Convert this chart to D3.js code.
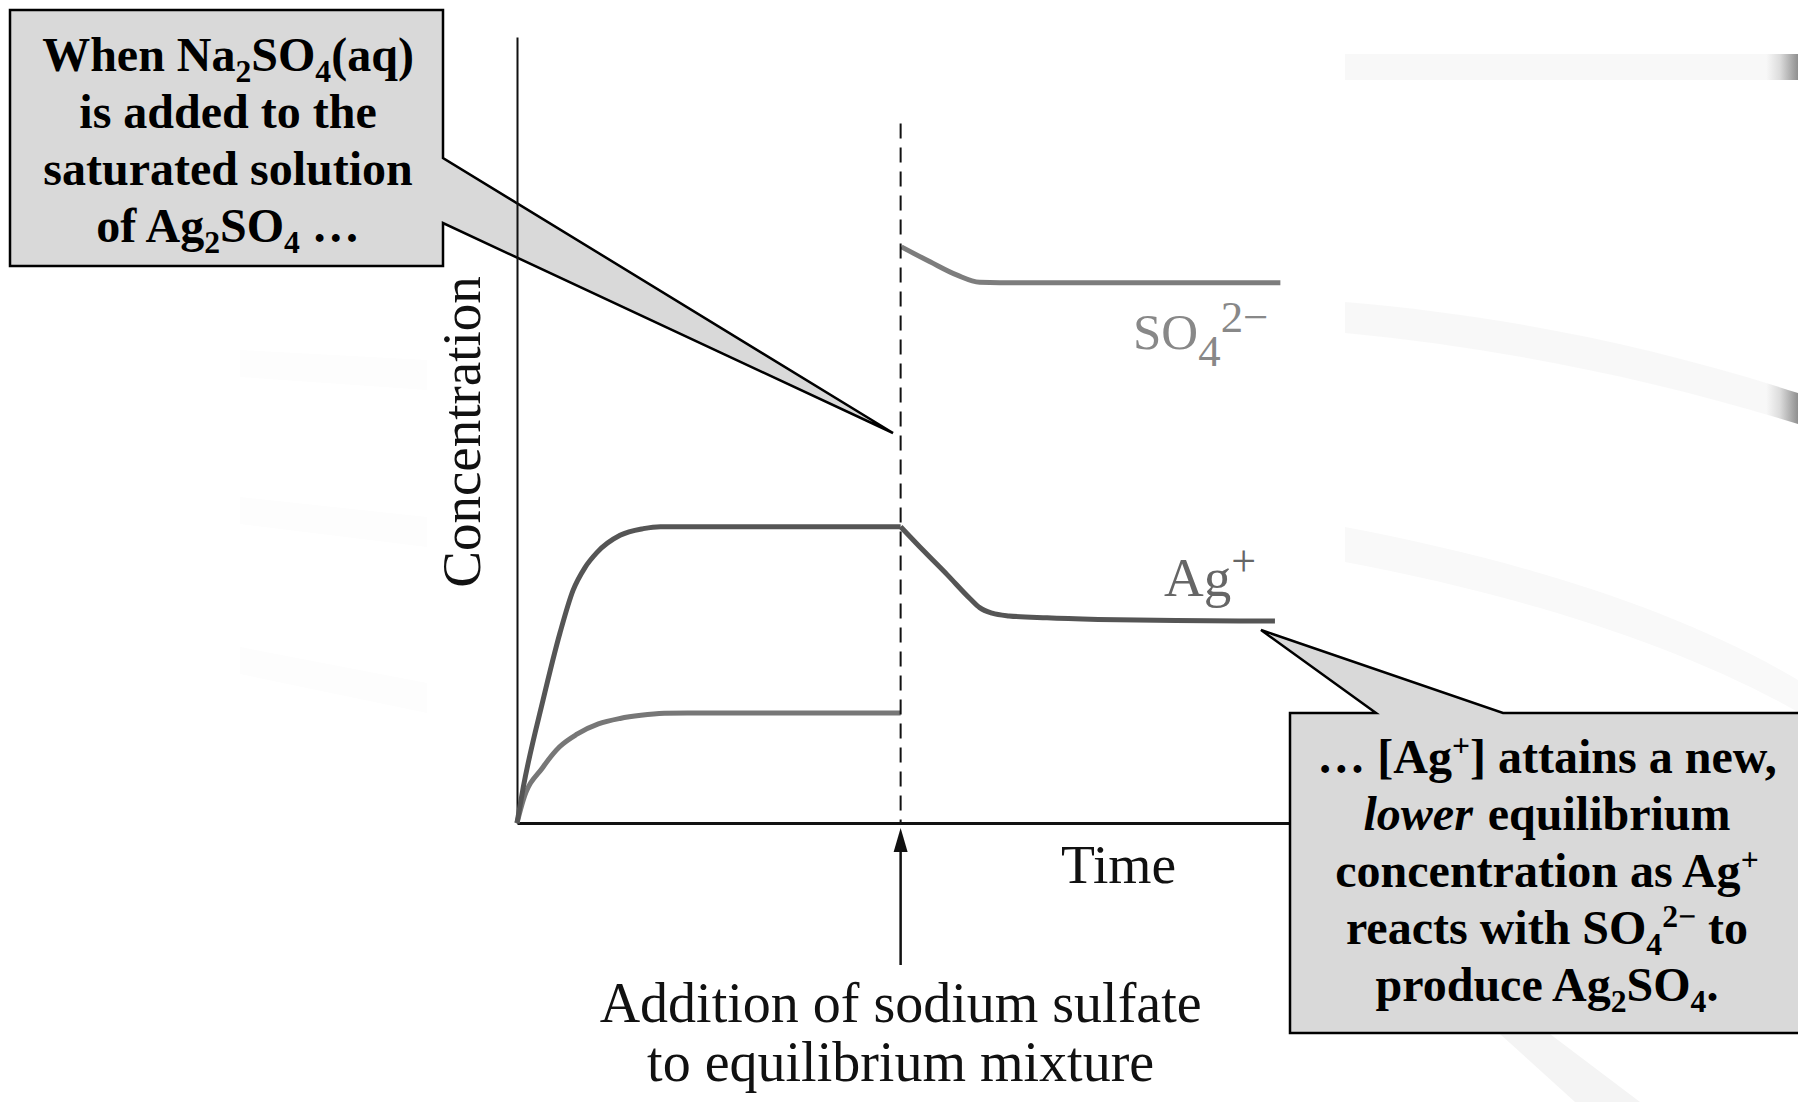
<!DOCTYPE html>
<html>
<head>
<meta charset="utf-8">
<script src="https://cdn.jsdelivr.net/npm/d3@7"></script>
<style>
  body { margin: 0; background: #fff; }
  svg { display: block; font-family: "Liberation Serif", "Times New Roman", serif; }
</style>
</head>
<body>
<script>
// time when sodium sulfate is added (x units) and top of the dashed marker
const additionTime = 49.5;
const markerTop = 89;

// Ag+ before and after the addition
const agTimeBefore = [0, 0.8, 3.35, 5.55, 7.23, 8.77, 10.3, 13.3, 16.3, 18.5, 49.5];
const agConcBefore = [0, 4.5, 15.6, 24.2, 29.6, 32.5, 34.4, 36.6, 37.45, 37.7, 37.7];
const agTimeAfter = [49.5, 52.5, 55.5, 58.5, 59.7, 61.3, 63.5, 68.4, 75, 85, 97.8];
const agConcAfter = [37.7, 34.6, 31.6, 28.5, 27.4, 26.7, 26.35, 26.1, 25.9, 25.75, 25.7];

// sulfate before the addition (lower curve)
const so4TimeBefore = [0, 0.8, 3.35, 5.5, 7.74, 10.5, 13.3, 16, 19, 22, 49.5];
const so4ConcBefore = [0, 2.9, 7.1, 9.7, 11.3, 12.6, 13.3, 13.7, 13.95, 14.0, 14.0];

// sulfate after the addition
const so4TimeAfter = [49.6, 53.3, 56.8, 59.7, 62.3, 98.5];
const so4ConcAfter = [73.3, 71.4, 69.7, 68.8, 68.75, 68.75];

const w = 1798;
const h = 1102;

const x = d3.scaleLinear().domain([0, 100]).range([517, 1292]);
const y = d3.scaleLinear().domain([0, 100]).range([823, 37]);

const svg = d3.select("body").append("svg").attr("width", w).attr("height", h);

// faint background swooshes from the slide template
const bg = svg.append("g");
const grad = svg.append("defs").append("linearGradient").attr("id", "edge");
grad.append("stop").attr("offset", "0").attr("stop-color", "#f8f8f8");
grad.append("stop").attr("offset", "0.93").attr("stop-color", "#f8f8f8");
grad.append("stop").attr("offset", "0.96").attr("stop-color", "#dcdcdc");
grad.append("stop").attr("offset", "1").attr("stop-color", "#8f8f8f");
bg.append("path").attr("d", "M1345,54H1798V80H1345Z").attr("fill", "url(#edge)");
bg.append("path").attr("d", "M1345,302C1500,315 1650,345 1798,393V424C1650,378 1500,348 1345,333Z").attr("fill", "url(#edge)");
bg.append("path").attr("d", "M1345,527C1520,560 1680,610 1798,680V712C1680,645 1520,595 1345,562Z").attr("fill", "#f9f9f9");
bg.append("path").attr("d", "M1500,1034H1550L1640,1102H1575Z").attr("fill", "#f4f4f4");
[[350, 360], [497, 517], [647, 683]].forEach(([a, b]) => {
  bg.append("path")
    .attr("d", `M240,${a}L427,${b}V${b + 30}L240,${a + 27}Z`)
    .attr("fill", "#fdfdfd");
});

// callout 1 (drawn under the axis)
svg.append("path")
  .attr("d", "M10,10H443V158L893,433L443,223V266H10Z")
  .attr("fill", "#d9d9d9").attr("stroke", "#000").attr("stroke-width", 2.5)
  .attr("stroke-linejoin", "miter");

// axes without ticks
const xAxis = d3.axisBottom(x).tickValues([]).tickSizeOuter(0);
const yAxis = d3.axisLeft(y).tickValues([]).tickSizeOuter(0);
svg.append("g").attr("transform", "translate(0," + y(0) + ")").call(xAxis)
  .select(".domain").attr("stroke", "#111").attr("stroke-width", 3);
svg.append("g").attr("transform", "translate(" + x(0) + ",0)").call(yAxis)
  .select(".domain").attr("stroke", "#111").attr("stroke-width", 2);

const line = d3.line()
  .x((d) => x(d[0]))
  .y((d) => y(d[1]))
  .curve(d3.curveMonotoneX);

const zip = (a, b) => a.map((v, i) => [v, b[i]]);

const curves = [
  [zip(so4TimeBefore, so4ConcBefore), "#777"],
  [zip(so4TimeAfter, so4ConcAfter), "#7d7d7d"],
  [zip(agTimeBefore, agConcBefore), "#555"],
  [zip(agTimeAfter, agConcAfter), "#555"],
];
svg.selectAll("path.curve")
  .data(curves)
  .enter()
  .append("path")
  .attr("class", "curve")
  .attr("d", (d) => line(d[0]))
  .attr("fill", "none")
  .attr("stroke", (d) => d[1])
  .attr("stroke-width", 5)
  .attr("stroke-linecap", "butt");

// dashed marker at the addition time
svg.append("line")
  .attr("x1", x(additionTime)).attr("x2", x(additionTime))
  .attr("y1", y(markerTop)).attr("y2", y(0))
  .attr("stroke", "#111").attr("stroke-width", 2)
  .attr("stroke-dasharray", "15,9");

// axis titles
svg.append("text")
  .attr("transform", "translate(480,432) rotate(-90)")
  .attr("text-anchor", "middle")
  .attr("font-size", 55)
  .attr("fill", "#111")
  .text("Concentration");

svg.append("text")
  .attr("x", 1061).attr("y", 883)
  .attr("font-size", 55.5).attr("fill", "#111")
  .text("Time");

// arrow under the axis
const ax = x(additionTime);
svg.append("line")
  .attr("x1", ax).attr("x2", ax).attr("y1", 965).attr("y2", 845)
  .attr("stroke", "#111").attr("stroke-width", 2.5);
svg.append("path")
  .attr("d", `M${ax},828L${ax - 7},852L${ax + 7},852Z`)
  .attr("fill", "#111");

svg.append("text")
  .attr("x", ax).attr("y", 1022)
  .attr("text-anchor", "middle").attr("font-size", 56).attr("fill", "#111")
  .text("Addition of sodium sulfate");
svg.append("text")
  .attr("x", ax).attr("y", 1081)
  .attr("text-anchor", "middle").attr("font-size", 56).attr("fill", "#111")
  .text("to equilibrium mixture");

// callout 2
svg.append("path")
  .attr("d", "M1290,713H1376L1261,630L1503,713H1802V1033H1290Z")
  .attr("fill", "#d9d9d9").attr("stroke", "#000").attr("stroke-width", 2.5);

// one line of rich text: each piece is its own <text>, laid out left to right
function richLine(cx, cy, parts, opt) {
  const g = svg.append("g");
  let cur = 0;
  parts.forEach(([s, k]) => {
    const small = k === "sub" || k === "sup";
    const fs = small ? opt.size * opt.small : opt.size;
    const dy = k === "sub" ? opt.size * opt.subShift : k === "sup" ? -opt.size * opt.supShift : 0;
    const t = g.append("text")
      .attr("x", cur).attr("y", cy + dy)
      .attr("font-size", fs)
      .attr("font-weight", opt.weight)
      .attr("fill", opt.fill)
      .attr("xml:space", "preserve")
      .style("white-space", "pre")
      .text(s);
    if (k === "i") t.attr("font-style", "italic");
    cur += t.node().getComputedTextLength() + (k === "i" ? 3 : 0);
  });
  const left = opt.anchor === "start" ? cx : cx - cur / 2;
  g.attr("transform", "translate(" + left + ",0)");
}

const boxOpt = { size: 48, small: 0.66, subShift: 0.22, supShift: 0.36, weight: "bold", fill: "#000" };

const box1 = [
  [["When Na", "n"], ["2", "sub"], ["SO", "n"], ["4", "sub"], ["(aq)", "n"]],
  [["is added to the", "n"]],
  [["saturated solution", "n"]],
  [["of Ag", "n"], ["2", "sub"], ["SO", "n"], ["4", "sub"], [" …", "n"]],
];
box1.forEach((p, i) => richLine(228, 71 + i * 57, p, boxOpt));

const box2 = [
  [["… [Ag", "n"], ["+", "sup"], ["] attains a new,", "n"]],
  [["lower", "i"], [" equilibrium", "n"]],
  [["concentration as Ag", "n"], ["+", "sup"]],
  [["reacts with SO", "n"], ["4", "sub"], ["2−", "sup"], [" to", "n"]],
  [["produce Ag", "n"], ["2", "sub"], ["SO", "n"], ["4", "sub"], [".", "n"]],
];
box2.forEach((p, i) => richLine(1547, 773 + i * 57, p, boxOpt));

// curve labels
richLine(1133, 349, [["SO", "n"], ["4", "sub"], ["2−", "sup"]],
  { size: 51, small: 0.88, subShift: 0.34, supShift: 0.34, weight: "normal", fill: "#888", anchor: "start" });
richLine(1164, 596, [["Ag", "n"], ["+", "sup"]],
  { size: 55, small: 0.8, subShift: 0, supShift: 0.36, weight: "normal", fill: "#666", anchor: "start" });
</script>
</body>
</html>
